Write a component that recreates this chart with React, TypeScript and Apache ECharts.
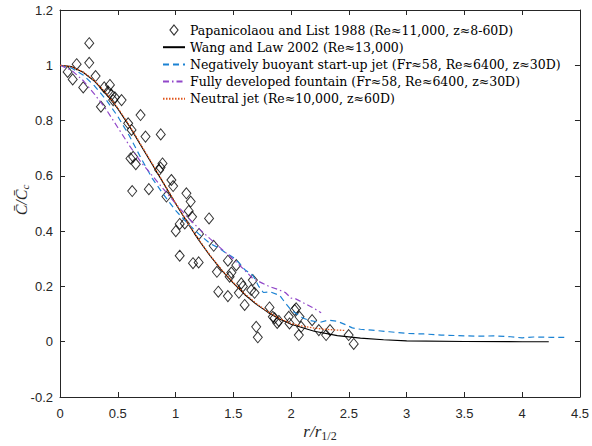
import React, { useEffect, useRef } from "react";
import * as echarts from "echarts";

const xTicks = [0, 0.5, 1, 1.5, 2, 2.5, 3, 3.5, 4, 4.5];
const yTicks = [-0.2, 0, 0.2, 0.4, 0.6, 0.8, 1, 1.2];

const seriesNames = [
  "Papanicolaou and List 1988 (Re≈11,000, z≈8-60D)",
  "Wang and Law 2002 (Re≈13,000)",
  "Negatively buoyant start-up jet (Fr≈58, Re≈6400, z≈30D)",
  "Fully developed fountain (Fr≈58, Re≈6400, z≈30D)",
  "Neutral jet (Re≈10,000, z≈60D)",
];

const papanicolaou: [number, number][] = [
  [0.066, 0.976], [0.11, 0.949], [0.144, 1.004], [0.201, 0.92], [0.253, 1.08],
  [0.253, 1.009], [0.308, 0.961], [0.354, 0.85], [0.383, 0.92], [0.417, 0.905],
  [0.432, 0.929], [0.446, 0.893], [0.46, 0.874], [0.475, 0.884], [0.533, 0.874],
  [0.59, 0.79], [0.619, 0.766], [0.697, 0.82], [0.74, 0.742], [0.872, 0.75],
  [0.61, 0.663], [0.633, 0.669], [0.656, 0.642], [0.625, 0.545], [0.769, 0.552],
  [0.858, 0.621], [0.87, 0.63], [0.887, 0.645], [0.921, 0.525], [0.964, 0.585],
  [0.979, 0.563], [1.094, 0.537], [1.131, 0.507], [1.114, 0.473], [1.143, 0.452],
  [1.29, 0.446], [1.002, 0.4], [1.036, 0.426], [1.08, 0.428], [1.036, 0.311],
  [1.151, 0.284], [1.2, 0.287], [1.203, 0.39], [1.33, 0.347], [1.358, 0.253],
  [1.37, 0.181], [1.453, 0.165], [1.453, 0.293], [1.468, 0.235], [1.483, 0.25],
  [1.526, 0.277], [1.548, 0.177], [1.569, 0.211], [1.583, 0.2], [1.598, 0.133],
  [1.655, 0.187], [1.669, 0.223], [1.684, 0.177], [1.698, 0.054], [1.712, 0.016],
  [1.813, 0.124], [1.842, 0.09], [1.857, 0.085], [1.88, 0.068], [1.894, 0.075],
  [1.98, 0.09], [1.986, 0.066], [2.03, 0.115], [2.044, 0.121], [2.067, 0.024],
  [2.073, 0.09], [2.087, 0.054], [2.182, 0.078], [2.24, 0.042], [2.303, 0.024],
  [2.337, 0.042], [2.498, 0.024], [2.542, -0.008],
];

const wangLaw: [number, number][] = [
  [0, 1.0], [0.1, 0.995], [0.2, 0.975], [0.3, 0.942], [0.4, 0.897], [0.5, 0.843],
  [0.6, 0.78], [0.7, 0.71], [0.8, 0.64], [0.9, 0.57], [1.0, 0.5], [1.1, 0.432],
  [1.2, 0.368], [1.3, 0.31], [1.4, 0.258], [1.5, 0.212], [1.6, 0.17], [1.7, 0.135],
  [1.8, 0.106], [1.9, 0.082], [2.0, 0.063], [2.2, 0.038], [2.4, 0.022], [2.6, 0.013],
  [2.8, 0.007], [3.0, 0.003], [3.5, 0.001], [4.0, 0], [4.23, 0],
];

const negBuoyant: [number, number][] = [
  [0, 1.0], [0.1, 0.99], [0.2, 0.965], [0.3, 0.925], [0.4, 0.875], [0.5, 0.815],
  [0.6, 0.745], [0.7, 0.665], [0.8, 0.59], [0.9, 0.53], [1.0, 0.475], [1.1, 0.43],
  [1.2, 0.39], [1.3, 0.355], [1.38, 0.338], [1.44, 0.32], [1.5, 0.305], [1.55, 0.285],
  [1.6, 0.26], [1.67, 0.24], [1.72, 0.2], [1.76, 0.178], [1.82, 0.18], [1.9, 0.168],
  [1.96, 0.135], [2.0, 0.115], [2.05, 0.1], [2.1, 0.086], [2.16, 0.077], [2.25, 0.07],
  [2.32, 0.078], [2.4, 0.074], [2.47, 0.062], [2.53, 0.05], [2.6, 0.045], [2.7, 0.042],
  [2.85, 0.036], [3.0, 0.03], [3.15, 0.028], [3.3, 0.024], [3.45, 0.022], [3.6, 0.02],
  [3.75, 0.021], [3.9, 0.018], [4.0, 0.014], [4.1, 0.017], [4.25, 0.016], [4.38, 0.016],
];

const fountain: [number, number][] = [
  [0, 1.0], [0.1, 0.982], [0.2, 0.945], [0.3, 0.895], [0.4, 0.84], [0.5, 0.775],
  [0.6, 0.71], [0.7, 0.65], [0.8, 0.6], [0.9, 0.55], [1.0, 0.5], [1.1, 0.452],
  [1.2, 0.41], [1.3, 0.372], [1.4, 0.335], [1.5, 0.298], [1.6, 0.258], [1.67, 0.228],
  [1.75, 0.212], [1.81, 0.2], [1.88, 0.19], [1.95, 0.178], [2.0, 0.158], [2.04, 0.155],
  [2.1, 0.142], [2.18, 0.125], [2.26, 0.105],
];

const neutralJet: [number, number][] = [
  [0, 1.0], [0.1, 0.995], [0.2, 0.976], [0.3, 0.944], [0.4, 0.899], [0.5, 0.846],
  [0.6, 0.783], [0.7, 0.713], [0.8, 0.643], [0.9, 0.572], [1.0, 0.502], [1.1, 0.434],
  [1.2, 0.37], [1.3, 0.312], [1.4, 0.26], [1.5, 0.214], [1.6, 0.173], [1.7, 0.138],
  [1.8, 0.108], [1.9, 0.084], [2.0, 0.066], [2.1, 0.056], [2.2, 0.049], [2.3, 0.045],
  [2.4, 0.042], [2.47, 0.041],
];

export default function App() {
  const ref = useRef<HTMLDivElement>(null);
  useEffect(() => {
    if (!ref.current) return;
    const chart = echarts.init(ref.current, null, { renderer: "svg" });
    const axisColor = "#262626";
    const serif = "Liberation Serif";
    const legendFont = "DejaVu Serif";
    const tickFont = { fontFamily: "Liberation Sans", fontSize: 13, color: axisColor };
    const xMin = xTicks[0], xMax = xTicks[xTicks.length - 1];
    const yMin = yTicks[0], yMax = yTicks[yTicks.length - 1];
    const baseX = {
      type: "value" as const, min: xMin, max: xMax, interval: 0.5,
      axisLine: { show: true, onZero: false, lineStyle: { color: axisColor, width: 1 } },
      axisTick: { show: true, inside: true, length: 5, lineStyle: { color: axisColor } },
      splitLine: { show: false },
    };
    const baseY = {
      type: "value" as const, min: yMin, max: yMax, interval: 0.2,
      axisLine: { show: true, onZero: false, lineStyle: { color: axisColor, width: 1 } },
      axisTick: { show: true, inside: true, length: 5, lineStyle: { color: axisColor } },
      splitLine: { show: false },
    };
    const hidden = { itemStyle: { opacity: 0 } };
    chart.setOption({
      animation: false,
      backgroundColor: "#fff",
      grid: { left: 60, right: 11, top: 10, bottom: 49, containLabel: false },
      xAxis: [
        { ...baseX, position: "bottom", axisLabel: { ...tickFont, margin: 10 } },
        { ...baseX, position: "top", axisLabel: { show: false } },
      ],
      yAxis: [
        { ...baseY, position: "left", axisLabel: { ...tickFont, margin: 7 } },
        { ...baseY, position: "right", axisLabel: { show: false } },
      ],
      legend: {
        orient: "vertical",
        left: 162,
        top: 23,
        padding: 0,
        itemWidth: 22,
        itemHeight: 10,
        itemGap: 3.2,
        symbolKeepAspect: true,
        data: [
          { name: seriesNames[0], icon: "path://M4,0 L8,5 L4,10 L0,5 Z", itemStyle: { color: "rgba(255,255,255,0)", borderColor: "#000", borderWidth: 1.2 } },
          { name: seriesNames[1], ...hidden },
          { name: seriesNames[2], ...hidden },
          { name: seriesNames[3], ...hidden },
          { name: seriesNames[4], ...hidden },
        ],
        textStyle: { fontFamily: legendFont, fontSize: 12.5, color: "#000", lineHeight: 14 },
      },
      graphic: [
        {
          type: "text",
          x: 21, y: 200, rotation: Math.PI / 2,
          style: {
            text: "{a|C̄/C̄}{s|c}",
            align: "center", verticalAlign: "middle",
            rich: {
              a: { fontFamily: serif, fontStyle: "italic", fontSize: 16, fill: axisColor },
              s: { fontFamily: serif, fontStyle: "italic", fontSize: 11, fill: axisColor, padding: [8, 0, 0, 0] },
            },
          },
        },
        {
          type: "text",
          x: 320, y: 431,
          style: {
            text: "{a|r/r}{s|1/2}",
            align: "center", verticalAlign: "middle",
            rich: {
              a: { fontFamily: serif, fontStyle: "italic", fontSize: 17, fill: axisColor },
              s: { fontFamily: serif, fontSize: 12, fill: axisColor, padding: [9, 0, 0, 0] },
            },
          },
        },
      ],
      series: [
        {
          name: seriesNames[0], type: "scatter", data: papanicolaou,
          symbol: "diamond", symbolSize: [9, 11],
          itemStyle: { color: "rgba(255,255,255,0)", borderColor: "#000", borderWidth: 1 },
        },
        {
          name: seriesNames[1], type: "line", data: wangLaw, symbol: "none", showSymbol: false,
          lineStyle: { color: "#000", width: 1.1, type: "solid" }, itemStyle: { color: "#000" },
        },
        {
          name: seriesNames[2], type: "line", data: negBuoyant, symbol: "none", showSymbol: false,
          lineStyle: { color: "#1b82d3", width: 1.2, type: [6, 4] }, itemStyle: { color: "#1b82d3" },
        },
        {
          name: seriesNames[3], type: "line", data: fountain, symbol: "none", showSymbol: false,
          lineStyle: { color: "#9147c9", width: 1.2, type: [6, 3, 1.5, 3] }, itemStyle: { color: "#9147c9" },
        },
        {
          name: seriesNames[4], type: "line", data: neutralJet, symbol: "none", showSymbol: false,
          lineStyle: { color: "#e0561c", width: 1.3, type: [1.5, 1.5] }, itemStyle: { color: "#e0561c" },
        },
      ],
    });
    return () => chart.dispose();
  }, []);
  return <div ref={ref} style={{ width: 592, height: 446, position: "absolute", left: 0, top: 0 }} />;
}
